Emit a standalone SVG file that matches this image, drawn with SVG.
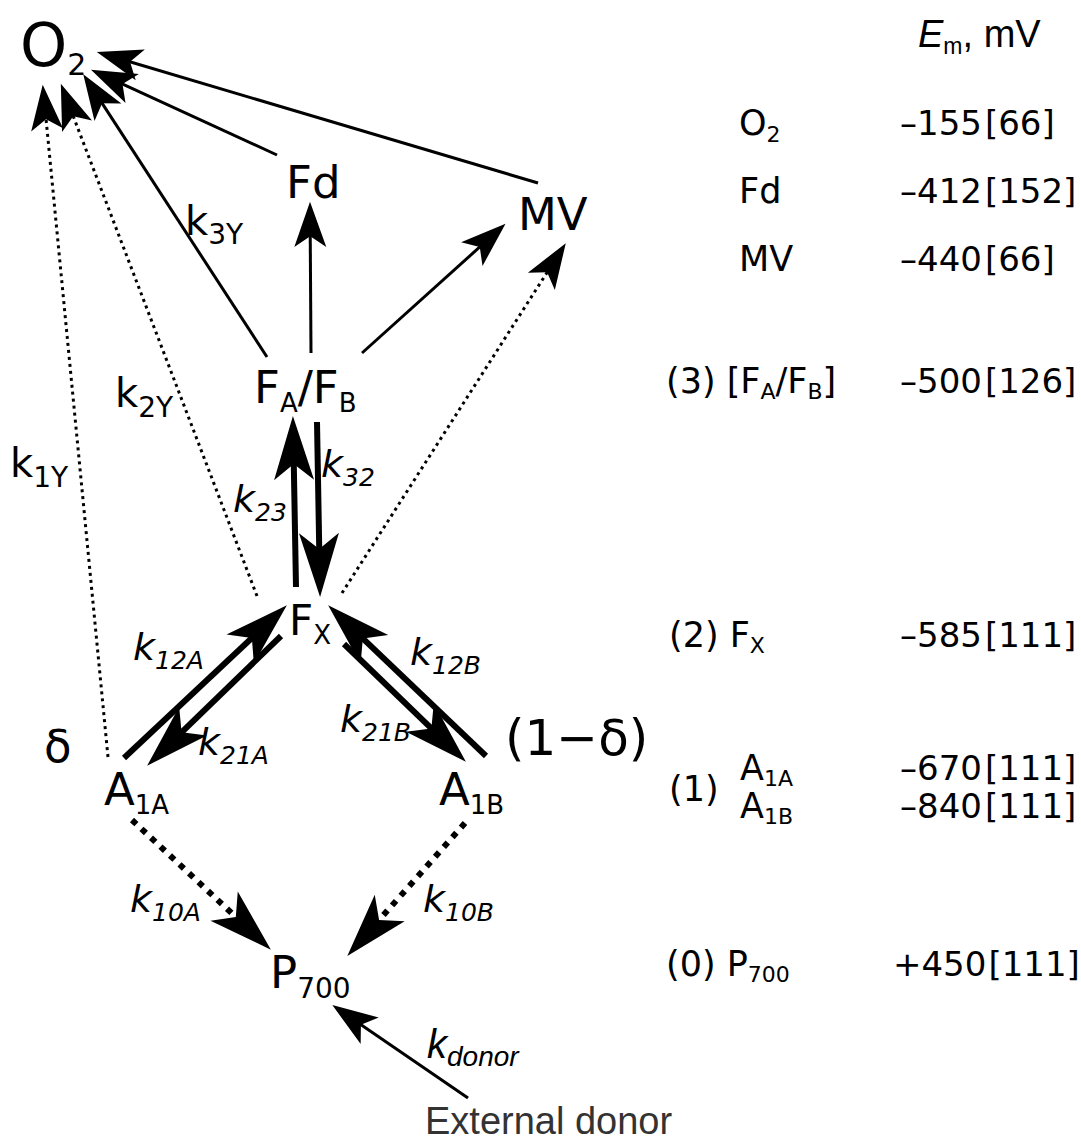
<svg xmlns="http://www.w3.org/2000/svg" width="1081" height="1144" viewBox="0 0 1081 1144">
<defs>
<style>
text { font-family: "DejaVu Sans", Verdana, sans-serif; fill: #000; }
.n { font-size: 45px; }
.s { font-size: 26px; }
.k { font-size: 40px; }
.ks { font-size: 28px; }
.ki { font-size: 38px; font-style: italic; }
.kis { font-size: 25px; font-style: italic; }
.t { font-size: 35px; }
.v { font-size: 34px; }
.ts { font-size: 22px; }
.thin { stroke: #000; stroke-width: 3; fill: none; }
.thick { stroke: #000; stroke-width: 6; fill: none; }
.dot { stroke: #000; stroke-width: 3; fill: none; stroke-dasharray: 3 4; }
.dotb { stroke: #000; stroke-width: 6; fill: none; stroke-dasharray: 6 7; }
</style>
<marker id="ah" markerUnits="userSpaceOnUse" orient="auto" refX="0" refY="0" markerWidth="60" markerHeight="60" viewBox="-30 -15 45 30" overflow="visible">
<path d="M10,0 L-24,-12 L-16,0 L-24,12 Z" fill="#000"/>
</marker>
<marker id="ahb" markerUnits="userSpaceOnUse" orient="auto" refX="0" refY="0" markerWidth="80" markerHeight="80" viewBox="-40 -20 60 40" overflow="visible">
<path d="M12,0 L-36,-15 L-24,0 L-36,15 Z" fill="#000"/>
</marker>
</defs>
<rect width="1081" height="1144" fill="#fff"/>

<g id="connectors">
<line class="thin" x1="538" y1="183" x2="109.6" y2="55.8" marker-end="url(#ah)"/>
<line class="thin" x1="277" y1="155" x2="103.1" y2="75.2" marker-end="url(#ah)"/>
<line class="thin" x1="267" y1="357" x2="90.5" y2="85.4" marker-end="url(#ah)"/>
<line class="thin" x1="311" y1="353" x2="310.1" y2="215" marker-end="url(#ah)"/>
<line class="thin" x1="362" y1="353" x2="495.6" y2="232.7" marker-end="url(#ah)"/>
<line class="dot" x1="108" y1="757" x2="44" y2="98" marker-end="url(#ah)"/>
<line class="dot" x1="257" y1="596" x2="65.6" y2="96.3" marker-end="url(#ah)"/>
<line class="dot" x1="342" y1="593" x2="558.6" y2="254.4" marker-end="url(#ah)"/>
<line class="thick" x1="296" y1="587" x2="293.2" y2="432" marker-end="url(#ahb)"/>
<line class="thick" x1="317" y1="422" x2="319.8" y2="581" marker-end="url(#ahb)"/>
<line class="thick" x1="124" y1="758" x2="275.2" y2="616.2" marker-end="url(#ahb)"/>
<line class="thick" x1="281" y1="636" x2="158.6" y2="754.6" marker-end="url(#ahb)"/>
<line class="thick" x1="344" y1="644" x2="454.4" y2="750.7" marker-end="url(#ahb)"/>
<line class="thick" x1="486" y1="756" x2="339.7" y2="616.3" marker-end="url(#ahb)"/>
<line class="dotb" x1="132" y1="820" x2="259.2" y2="938.8" marker-end="url(#ahb)"/>
<line class="dotb" x1="465" y1="823" x2="357.9" y2="944" marker-end="url(#ahb)"/>
<line class="thin" x1="468" y1="1098" x2="343.3" y2="1012.6" marker-end="url(#ah)"/>
</g>

<g id="node-O2"><text x="20" y="66" font-size="60">O<tspan font-size="30" y="75">2</tspan></text></g>
<g id="node-Fd"><text class="n" x="286" y="198">Fd</text></g>
<g id="node-MV"><text class="n" x="518" y="230">MV</text></g>
<g id="node-FAFB"><text class="n" x="254" y="403">F<tspan class="s" y="412">A</tspan><tspan y="403">/F</tspan><tspan class="s" y="412">B</tspan></text></g>
<g id="node-FX"><text x="289" y="635" font-size="42">F<tspan class="s" y="644">X</tspan></text></g>
<g id="node-A1A"><text class="n" x="104" y="805">A<tspan class="s" y="814">1A</tspan></text></g>
<g id="node-A1B"><text class="n" x="439" y="805">A<tspan class="s" y="814">1B</tspan></text></g>
<g id="node-P700"><text class="n" x="270" y="988">P<tspan font-size="28" y="998">700</tspan></text></g>
<g id="node-donor"><text x="425" y="1134" style="font-family:'Liberation Sans', Arial, sans-serif; font-size:38px; fill:#333">External donor</text></g>

<g id="labels">
<text class="n" x="44" y="762">δ</text>
<text x="505" y="755" font-size="50">(1−δ)</text>
<text class="k" x="185" y="235">k<tspan class="ks" y="244">3Y</tspan></text>
<text class="k" x="115" y="407">k<tspan class="ks" y="417">2Y</tspan></text>
<text class="k" x="10" y="477">k<tspan class="ks" y="487">1Y</tspan></text>
<text class="ki" x="233" y="512">k<tspan class="kis" y="521">23</tspan></text>
<text class="ki" x="321" y="477">k<tspan class="kis" y="486">32</tspan></text>
<text class="ki" x="133" y="660">k<tspan class="kis" y="669">12A</tspan></text>
<text class="ki" x="198" y="755">k<tspan class="kis" y="764">21A</tspan></text>
<text class="ki" x="410" y="665">k<tspan class="kis" y="674">12B</tspan></text>
<text class="ki" x="340" y="732">k<tspan class="kis" y="741">21B</tspan></text>
<text class="ki" x="130" y="912">k<tspan class="kis" y="921">10A</tspan></text>
<text class="ki" x="423" y="912">k<tspan class="kis" y="921">10B</tspan></text>
<text x="427" y="1058" style="font-family:'Liberation Sans', Arial, sans-serif; font-size:40px; font-style:italic">k<tspan font-size="28" y="1066">donor</tspan></text>
</g>

<g id="table">
<text x="918" y="47" style="font-family:'Liberation Sans', Arial, sans-serif; font-size:38px"><tspan font-style="italic">E</tspan><tspan font-size="23" y="54">m</tspan><tspan y="47">, mV</tspan></text>
<text class="t" x="739" y="135">O<tspan class="ts" y="142">2</tspan></text>
<text class="v" x="900" y="135">–155<tspan dx="3">[66]</tspan></text>
<text class="t" x="739" y="203">Fd</text>
<text class="v" x="900" y="203">–412<tspan dx="3">[152]</tspan></text>
<text class="t" x="739" y="271">MV</text>
<text class="v" x="900" y="271">–440<tspan dx="3">[66]</tspan></text>
<text class="t" x="666" y="393">(3) [F<tspan class="ts" y="399">A</tspan><tspan y="393">/F</tspan><tspan class="ts" y="399">B</tspan><tspan y="393">]</tspan></text>
<text class="v" x="900" y="393">–500<tspan dx="3">[126]</tspan></text>
<text class="t" x="669" y="647">(2) F<tspan class="ts" y="653">X</tspan></text>
<text class="v" x="900" y="647">–585<tspan dx="3">[111]</tspan></text>
<text class="t" x="669" y="801">(1)</text>
<text class="t" x="740" y="780">A<tspan class="ts" y="786">1A</tspan></text>
<text class="t" x="740" y="818">A<tspan class="ts" y="824">1B</tspan></text>
<text class="v" x="900" y="780">–670<tspan dx="3">[111]</tspan></text>
<text class="v" x="900" y="818">–840<tspan dx="3">[111]</tspan></text>
<text class="t" x="666" y="976">(0) P<tspan class="ts" y="982">700</tspan></text>
<text class="v" x="893" y="976" font-size="33">+450<tspan dx="2">[111]</tspan></text>
</g>
</svg>
